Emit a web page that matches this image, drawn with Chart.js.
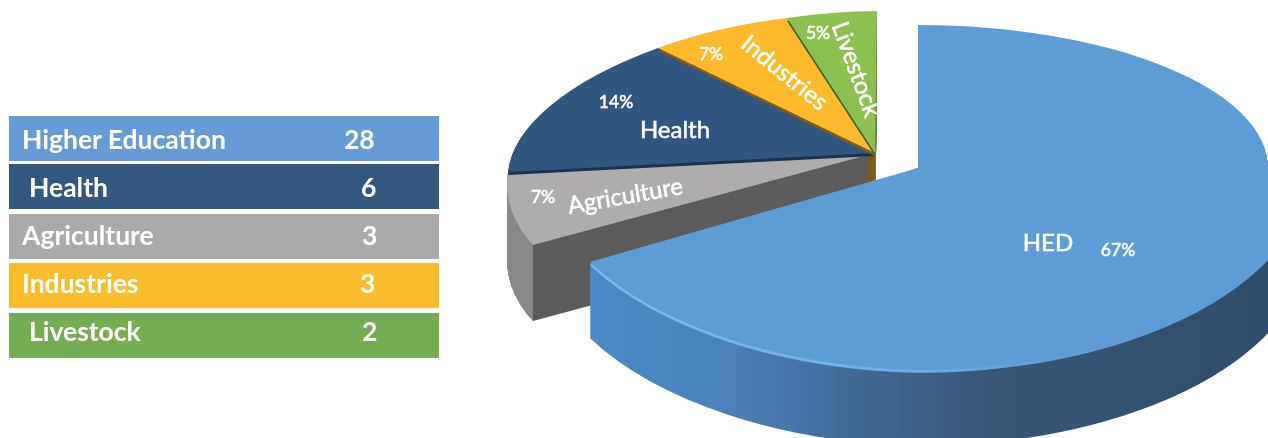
<!DOCTYPE html>
<html>
<head>
<meta charset="utf-8">
<title>Projects by sector</title>
<script src="https://cdn.jsdelivr.net/npm/chart.js@4"></script>
<style>
  html, body { margin: 0; padding: 0; background: #fff; }
  #stage { position: relative; width: 1268px; height: 438px; overflow: hidden; font-family: Lato, sans-serif; color: #fff; }
  #pie { position: absolute; left: 0; top: 0; }
  .row { position: absolute; left: 9px; width: 430px; height: 45px; font-size: 26.5px; font-weight: 700; line-height: 45px; }
  .row span { position: absolute; white-space: nowrap; }
  .tag { position: absolute; white-space: nowrap; line-height: 1; -webkit-text-stroke: 0.5px #fff; }
</style>
</head>
<body>
<div id="stage">
  <canvas id="pie" width="1268" height="438"></canvas>
</div>
<script>
const tableNames = ["Higher Education", "Health", "Agriculture", "Industries", "Livestock"];
const tableValues = [28, 6, 3, 3, 2];
const tableColors = ["#659cd5", "#33577f", "#a9aaac", "#f9bc2d", "#74ad52"];
const tableTops = [116, 164, 214, 263, 313];
const tableTextDy = [1, 1, -1, -2, -4];
const tableNameX = [13, 20, 13, 13, 20];
const tableValueX = [335, 352, 353, 351, 353];

// clockwise from 12 o'clock
const sliceNames = ["HED", "Agriculture", "Health", "Industries", "Livestock"];
const sliceValues = [28, 3, 6, 3, 2];
const slicePercents = ["67%", "7%", "14%", "7%", "5%"];
const sliceColors = ["#5e9cd6", "#aeacac", "#315781", "#fbb92b", "#8cc152"];
const sliceStrips = ["#5e9cd6", "#aeacac", "#1d3150", "#7c5c20", "#3f5f35"];

// [text, centre x, centre y, px, rotate deg]
const nameTags = [
  ["HED", 1048, 242, 24, 0],
  ["Agriculture", 625, 195, 24, -10],
  ["Health", 675, 129, 24, 0],
  ["Industries", 785, 72, 24, 39],
  ["Livestock", 857, 69, 24, 70],
];
const percentTags = [
  [1118, 250], [543, 197], [616, 102], [711, 54], [818, 33],
];

const DEPTH = 76;
// small slices: rim points seen on the tilted disc, relative to the apex, clockwise
const GROUP = { cx: 875, cy: 153, maxX: 877,
  rim: [[-342, 92], [-367, 19], [-217, -105], [-88, -135], [2, -142]] };
// big slice: each quadrant has its own radii, [rx, ry, shear], front looks closer
const HED = { cx: 918, cy: 168, maxX: 2000,
  quads: { lt: [379, 143, 0], lb: [379, 202, 8], rt: [350, 143, 0], rb: [390, 202, 0] } };

function drawArc(ctx, el, fill) {
  const keep = el.options;
  el.options = { backgroundColor: fill, borderWidth: 0, offset: 0, spacing: 0, circular: true, borderRadius: 0 };
  el.draw(ctx);
  el.options = keep;
}

function rimMatrix(el, i) {
  const R = el.outerRadius;
  const [t1, t2] = [GROUP.rim[i - 1], GROUP.rim[i]];
  const u1 = [Math.cos(el.startAngle) * R, Math.sin(el.startAngle) * R];
  const u2 = [Math.cos(el.endAngle) * R, Math.sin(el.endAngle) * R];
  const det = u1[0] * u2[1] - u2[0] * u1[1];
  return [
    (t1[0] * u2[1] - t2[0] * u1[1]) / det,
    (t1[1] * u2[1] - t2[1] * u1[1]) / det,
    (t2[0] * u1[0] - t1[0] * u2[0]) / det,
    (t2[1] * u1[0] - t1[1] * u2[0]) / det,
  ];
}

function paintGroup(ctx, el, i, dy, fill, box) {
  const m = rimMatrix(el, i);
  ctx.save();
  ctx.beginPath();
  ctx.rect(box ? box[0] : -100, -100, (box ? box[1] : GROUP.maxX) - (box ? box[0] : -100), 800);
  ctx.clip();
  ctx.translate(GROUP.cx, GROUP.cy + dy);
  ctx.transform(m[0], m[1], m[2], m[3], 0, 0);
  ctx.translate(-el.x, -el.y);
  drawArc(ctx, el, fill);
  ctx.restore();
}

function paintHed(ctx, el, dy, fill) {
  const R = el.outerRadius;
  const s = HED;
  const parts = [
    [-2000, -2000, s.cx + 1, s.cy + 1, s.quads.lt],
    [-2000, s.cy, s.cx + 1, 4000, s.quads.lb],
    [s.cx, -2000, 4000, s.cy + 1, s.quads.rt],
    [s.cx, s.cy, 4000, 4000, s.quads.rb],
  ];
  parts.forEach((p) => {
    const sx = p[4][0] / R;
    const sy = p[4][1] / R;
    ctx.save();
    ctx.translate(0, dy);
    ctx.beginPath();
    ctx.rect(p[0], p[1], p[2] - p[0], p[3] - p[1]);
    ctx.clip();
    ctx.translate(s.cx, s.cy);
    ctx.transform(sx, p[4][2] / R, 0, sy, 0, 0);
    ctx.translate(-el.x, -el.y);
    const color = typeof fill === "function" ? fill(ctx, (x) => (x - s.cx) / sx + el.x) : fill;
    drawArc(ctx, el, color);
    ctx.restore();
  });
}

function wallGroup(ctx, el, i, color, box) {
  for (let dy = DEPTH; dy >= 1; dy--) paintGroup(ctx, el, i, dy, color, box);
}

function hedSide(ctx, toLocal) {
  const g = ctx.createLinearGradient(toLocal(590), 0, toLocal(1268), 0);
  g.addColorStop(0, "#4a8ac8");
  g.addColorStop(0.2, "#4a82ba");
  g.addColorStop(0.42, "#3f6690");
  g.addColorStop(0.6, "#385676");
  g.addColorStop(1, "#2f4c6a");
  return g;
}

function hedGlow(ctx, toLocal) {
  const g = ctx.createLinearGradient(toLocal(590), 0, toLocal(1268), 0);
  g.addColorStop(0, "#74bcf0");
  g.addColorStop(0.45, "#6cb0e8");
  g.addColorStop(0.7, "#5e9cd6");
  g.addColorStop(1, "#5e9cd6");
  return g;
}

const discPlugin = {
  id: "disc",
  beforeDatasetDraw(chart) {
    const ctx = chart.ctx;
    const [hed, agri, health, industries, livestock] = chart.getDatasetMeta(0).data;

    wallGroup(ctx, livestock, 4, "#6e8a3a");
    wallGroup(ctx, industries, 3, "#7c5c20");
    wallGroup(ctx, health, 2, "#26405f");
    wallGroup(ctx, agri, 1, "#5d5c5c");
    wallGroup(ctx, agri, 1, "#8a8987", [0, 533]);
    wallGroup(ctx, industries, 3, "#7c5c20", [867, 878]);

    paintGroup(ctx, agri, 1, 0, sliceColors[1]);
    [[health, 2], [industries, 3], [livestock, 4]].forEach(([el, i]) => {
      paintGroup(ctx, el, i, 3, sliceStrips[i]);
      paintGroup(ctx, el, i, 0, sliceColors[i]);
    });

    for (let dy = DEPTH; dy >= 1; dy--) paintHed(ctx, hed, dy, hedSide);
    paintHed(ctx, hed, 3, hedGlow);
    paintHed(ctx, hed, 0, sliceColors[0]);
    return false;
  },
};

new Chart(document.getElementById("pie"), {
  type: "pie",
  data: {
    labels: sliceNames,
    datasets: [{ data: sliceValues, backgroundColor: sliceColors, borderWidth: 0 }],
  },
  options: {
    responsive: false,
    animation: false,
    rotation: 0,
    plugins: { legend: { display: false }, tooltip: { enabled: false } },
  },
  plugins: [discPlugin],
});

const stage = document.getElementById("stage");

tableNames.forEach((name, i) => {
  const row = document.createElement("div");
  row.className = "row";
  row.style.top = tableTops[i] + "px";
  row.style.background = tableColors[i];
  const top = tableTextDy[i];
  row.innerHTML = `<span style="left:${tableNameX[i]}px;top:${top}px">${name}</span><span style="left:${tableValueX[i]}px;top:${top}px">${tableValues[i]}</span>`;
  stage.appendChild(row);
});

function addTag(text, x, y, px, deg) {
  const t = document.createElement("div");
  t.className = "tag";
  t.textContent = text;
  t.style.left = x + "px";
  t.style.top = y + "px";
  t.style.fontSize = px + "px";
  t.style.transform = `translate(-50%, -50%) rotate(${deg}deg)`;
  stage.appendChild(t);
}

nameTags.forEach((t) => addTag(t[0], t[1], t[2], t[3], t[4]));
percentTags.forEach((p, i) => addTag(slicePercents[i], p[0], p[1], 17.5, 0));
</script>
</body>
</html>
